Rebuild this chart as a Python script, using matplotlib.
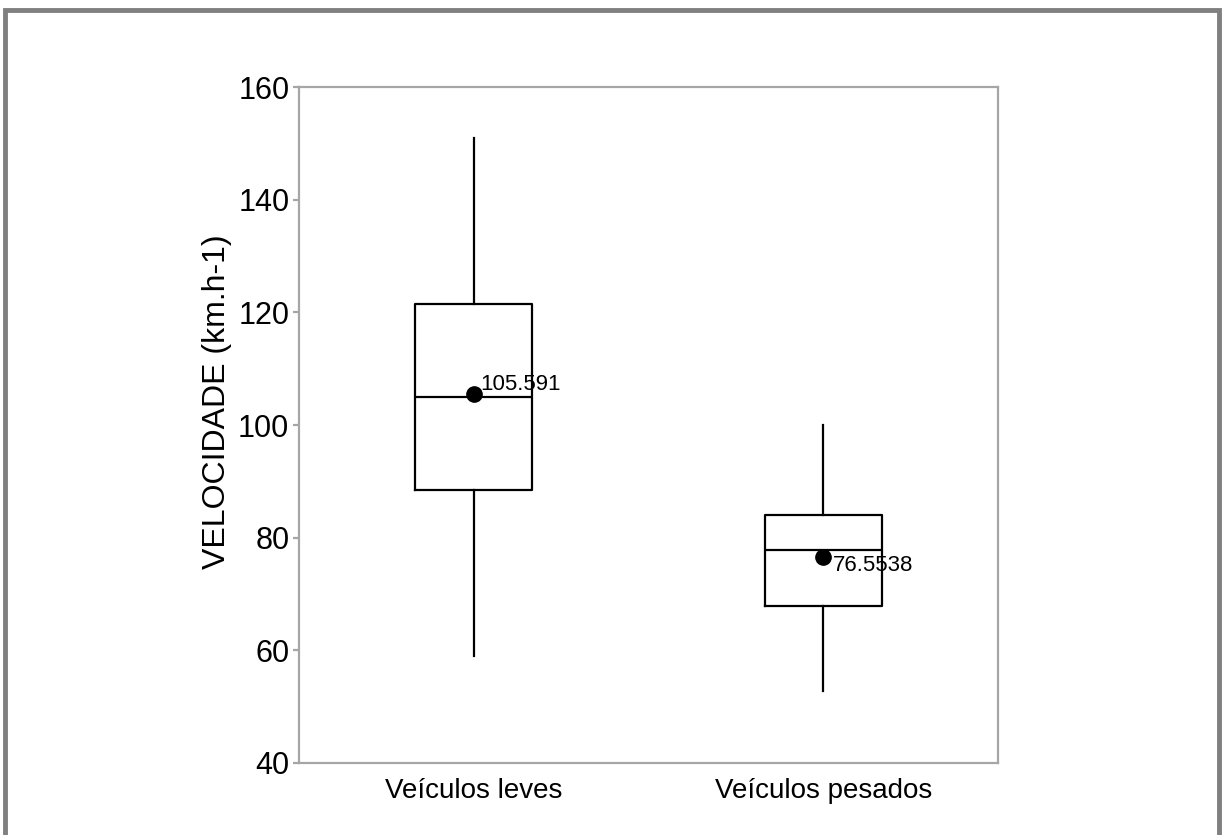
import matplotlib
matplotlib.use("Agg")
import matplotlib.pyplot as plt
from matplotlib.patches import Rectangle

plt.rcParams['font.family'] = ['Liberation Sans', 'DejaVu Sans']

categories = ["Veículos leves", "Veículos pesados"]
whisker_low = [59.0, 52.8]
q1 = [88.5, 67.9]
medians = [105.0, 77.8]
q3 = [121.5, 84.0]
whisker_high = [150.9, 100.0]
means = [105.591, 76.5538]
mean_labels = ["105.591", "76.5538"]

fig = plt.figure(figsize=(12.22, 8.35), dpi=100)
ax = fig.add_axes([299 / 1222, 1 - 763 / 835, 699 / 1222, 676 / 835])

stats = []
for i, name in enumerate(categories):
    stats.append(dict(label=name, whislo=whisker_low[i], q1=q1[i], med=medians[i],
                      q3=q3[i], whishi=whisker_high[i], fliers=[]))

line = dict(color="black", linewidth=1.6)
ax.bxp(stats, positions=[1, 2], widths=0.335, showfliers=False, showcaps=False,
       boxprops=line, whiskerprops=line, medianprops=line, capprops=line)

positions = [1, 2]
ax.plot(positions, means, "o", color="black", markersize=11, zorder=5)
ax.annotate(mean_labels[0], (positions[0], means[0]), xytext=(5, -1),
            textcoords="offset points", fontsize=16, ha="left", va="bottom")
ax.annotate(mean_labels[1], (positions[1], means[1]), xytext=(7, 1.5),
            textcoords="offset points", fontsize=16, ha="left", va="top")

ax.set_xlim(0.5, 2.5)
ax.set_ylim(40, 160)
ax.set_yticks([40, 60, 80, 100, 120, 140, 160])
ax.set_xticks(positions)
ax.set_xticklabels(categories)
ax.set_ylabel("VELOCIDADE (km.h-1)", fontsize=23)
ax.yaxis.set_label_coords(-0.096, 0.534)

for s in ax.spines.values():
    s.set_color("#a6a6a6")
    s.set_linewidth(1.6)
ax.tick_params(axis="y", labelsize=22, color="#a6a6a6", length=4, width=1.6, pad=3)
ax.tick_params(axis="x", labelsize=20, length=0, pad=11)

# Grey outer frame around the chart
fig.patches.append(Rectangle((5 / 1222, -0.05), 1214 / 1222, 1.05 - 10 / 835,
                             transform=fig.transFigure, fill=False,
                             edgecolor="#808080", linewidth=3.5))

fig.savefig("out.png", dpi=100)
